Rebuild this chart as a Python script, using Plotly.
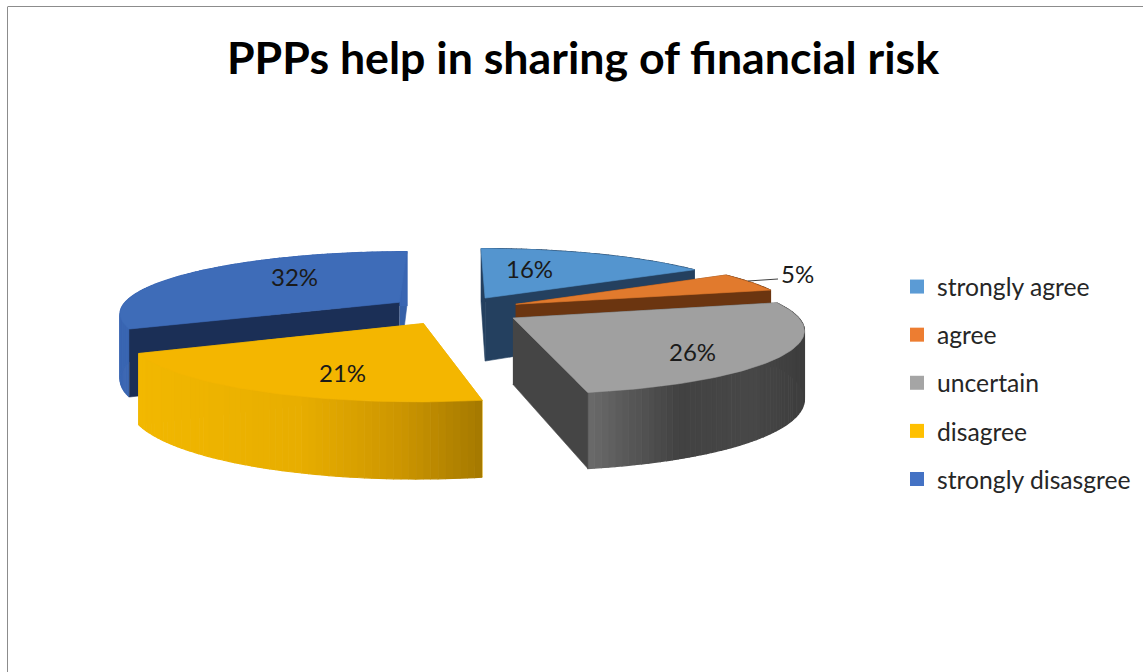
import numpy as np
import plotly.graph_objects as go

# ---- data ----
categories = ["strongly agree", "agree", "uncertain", "disagree", "strongly disasgree"]
values = [16, 5, 26, 21, 32]
pct_labels = ["16%", "5%", "26%", "21%", "32%"]

# ---- styles ----
legend_colors = ["#5B9BD5", "#ED7D31", "#A5A5A5", "#FFC000", "#4472C4"]
top_colors = ["#5495CF", "#E17A2D", "#A0A0A0", "#F4B600", "#3E6CB8"]
radial_colors = ["#24405F", "#6B3510", "#454545", "#E8AE00", "#1B2F56"]
end_wall_colors = ["#24405F", "#6B3510", "#454545", "#E8AE00", "#3560A8"]
# wall shade stops: (screen x, colour) per slice
wall_stops = [
    [(0, (36, 64, 95)), (1143, (36, 64, 95))],
    [(0, (107, 53, 16)), (1143, (107, 53, 16))],
    [(587, (108, 108, 108)), (625, (90, 90, 90)), (680, (66, 66, 66)), (750, (72, 72, 72)), (800, (62, 62, 62))],
    [(145, (242, 184, 0)), (300, (232, 174, 0)), (400, (205, 150, 0)), (480, (166, 122, 0))],
    [(0, (58, 102, 178)), (1143, (58, 102, 178))],
]
label_xy = [(529, 268), (797, 273), (692, 351), (342, 372), (294, 276)]

# projection parameters
CX, CY, A, B, K = 455, 310, 280, 61, 0.16
explode = [0.23, 0.24, 0.24, 0.24, 0.24]


def project(x, y):
    s = 1.0 / (1.0 + K * y)
    return CX + A * x * s, CY - B * y * s


def depth(y):
    return 65 - 10 * y


def shade(stops, x):
    xs = [p[0] for p in stops]
    return "rgb(%d,%d,%d)" % tuple(np.interp(x, xs, [p[1][i] for p in stops]) for i in range(3))


def poly(fig, xs, ys, color, width=0.6):
    fig.add_trace(go.Scatter(x=list(xs), y=list(ys), mode="lines", fill="toself", fillcolor=color,
                             line=dict(color=color, width=width), hoverinfo="skip", showlegend=False))


fig = go.Figure()
total = sum(values)
edges = np.cumsum([0] + values) / total * 2 * np.pi
draw_order = [0, 1, 4, 2, 3]

for i in draw_order:
    a0, a1 = edges[i], edges[i + 1]
    mid = (a0 + a1) / 2
    ox, oy = explode[i] * np.sin(mid), explode[i] * np.cos(mid)
    th = np.linspace(a0, a1, max(int(values[i] * 3), 8))
    mx, my = ox + np.sin(th), oy + np.cos(th)
    sx, sy = project(mx, my)
    dp = depth(my)
    ax, ay = project(np.array(ox), np.array(oy))
    ad = depth(oy)
    start_wall = ([ax, sx[0], sx[0], ax], [ay, sy[0], sy[0] + dp[0], ay + ad], radial_colors[i])
    end_wall = ([ax, sx[-1], sx[-1], ax], [ay, sy[-1], sy[-1] + dp[-1], ay + ad], end_wall_colors[i])
    # walls that face away go under the rim, walls that face the viewer over it
    start_faces = np.sin(a0) < -1e-6
    end_faces = np.sin(a1) > 1e-6
    if not start_faces:
        poly(fig, *start_wall)
    if not end_faces:
        poly(fig, *end_wall)
    for j in range(len(th) - 1):
        c = shade(wall_stops[i], (sx[j] + sx[j + 1]) / 2)
        poly(fig, [sx[j], sx[j + 1], sx[j + 1], sx[j]],
             [sy[j], sy[j + 1], sy[j + 1] + dp[j + 1], sy[j] + dp[j]], c, width=1.2)
    if start_faces:
        poly(fig, *start_wall)
    if end_faces:
        poly(fig, *end_wall)
    # top face
    poly(fig, np.r_[ax, sx, ax], np.r_[ay, sy, ay], top_colors[i])

# leader line of the small slice
fig.add_trace(go.Scatter(x=[748, 778], y=[281, 279], mode="lines", line=dict(color="#404040", width=1),
                         hoverinfo="skip", showlegend=False))

# legend entries
for name, col in zip(categories, legend_colors):
    fig.add_trace(go.Scatter(x=[None], y=[None], mode="markers", name=name, legendgroup=name,
                             marker=dict(symbol="square", size=14, color=col)))

annotations = [dict(x=x, y=y, text=t, showarrow=False, xref="x", yref="y",
                    font=dict(family="Lato", size=24, color="#1a1a1a"))
               for (x, y), t in zip(label_xy, pct_labels)]

shapes = [
    dict(type="line", xref="x", yref="y", x0=7.5, x1=7.5, y0=7, y1=672, line=dict(color="#8C8C8C", width=1)),
    dict(type="line", xref="x", yref="y", x0=7.5, x1=1143, y0=6.5, y1=6.5, line=dict(color="#8C8C8C", width=1)),
]

fig.update_layout(
    width=1143, height=672, margin=dict(l=0, r=0, t=0, b=0),
    paper_bgcolor="white", plot_bgcolor="white",
    title=dict(text="<b>PPPs help in sharing of financial risk</b>", x=583 / 1143, xanchor="center",
               y=1 - 58 / 672, yanchor="middle", font=dict(family="Lato", size=44.7, color="black")),
    xaxis=dict(range=[0, 1143], visible=False, fixedrange=True),
    yaxis=dict(range=[672, 0], visible=False, fixedrange=True),
    legend=dict(x=897 / 1143, y=1 - 264 / 672, xanchor="left", yanchor="top", tracegroupgap=13,
                font=dict(family="Lato", size=24.7, color="#262626"), bgcolor="rgba(0,0,0,0)"),
    annotations=annotations, shapes=shapes,
)

fig.write_html("out.html", config=dict(displayModeBar=False),
               post_script="document.body.style.margin='0';document.body.style.overflow='hidden';")
